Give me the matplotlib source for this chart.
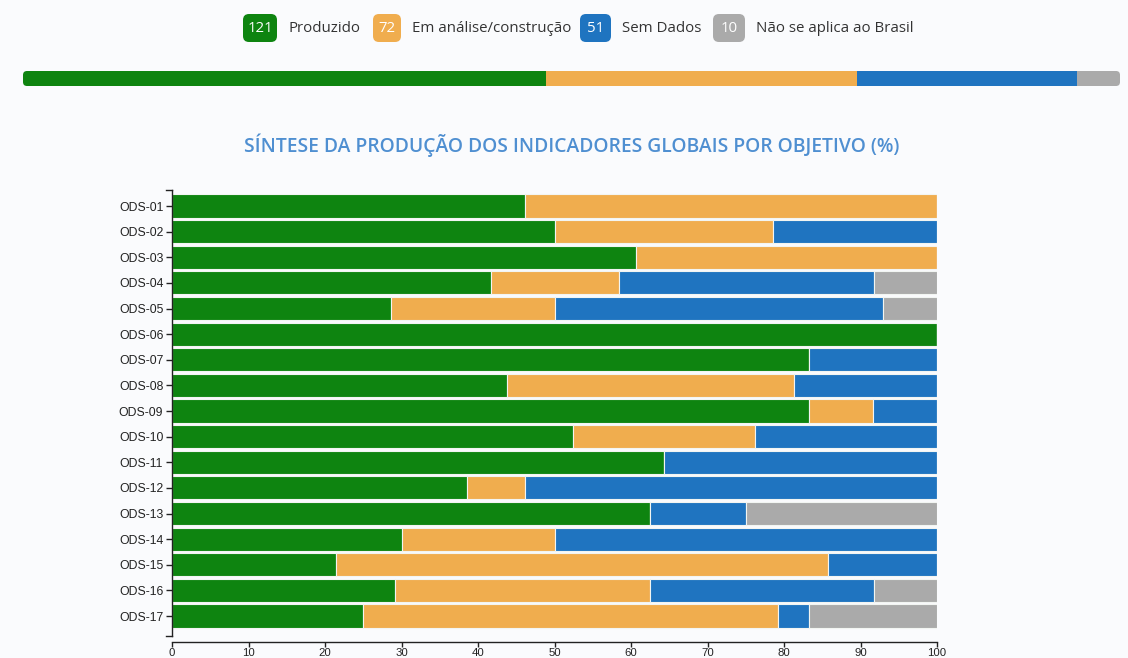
from matplotlib import pyplot as plt
from matplotlib.patches import FancyBboxPatch
from matplotlib.transforms import IdentityTransform
from matplotlib.font_manager import FontProperties
import numpy as np

# summary counts (legend badges + progress bar)
statusNames = ["Produzido", "Em análise/construção", "Sem Dados", "Não se aplica ao Brasil"]
statusCounts = [121, 72, 51, 10]
colors = ["#0e8410", "#f0ad4e", "#1f74c0", "#aaaaaa"]

# percentage per goal
goals = ["ODS-%02d" % i for i in range(1, 18)]
produzido = [46.2, 50.0, 60.7, 41.7, 28.6, 100.0, 83.3, 43.8, 83.3, 52.4, 64.3, 38.5, 62.5, 30.0, 21.4, 29.2, 25.0]
analise = [53.8, 28.6, 39.3, 16.7, 21.4, 0.0, 0.0, 37.5, 8.3, 23.8, 0.0, 7.7, 0.0, 20.0, 64.3, 33.3, 54.2]
semDados = [0.0, 21.4, 0.0, 33.3, 42.9, 0.0, 16.7, 18.7, 8.4, 23.8, 35.7, 53.8, 12.5, 50.0, 14.3, 29.2, 4.1]
naoAplica = [0.0, 0.0, 0.0, 8.3, 7.1, 0.0, 0.0, 0.0, 0.0, 0.0, 0.0, 0.0, 25.0, 0.0, 0.0, 8.3, 16.7]

W, H = 1128, 658
bg = "#fafbfd"
fig = plt.figure(figsize=(W / 100, H / 100), dpi=100)
fig.patch.set_facecolor(bg)

# overlay in pixel coordinates for legend and title
ov = fig.add_axes([0, 0, 1, 1])
ov.set_xlim(0, W)
ov.set_ylim(H, 0)
ov.axis("off")
ov.patch.set_alpha(0)

badgeX = [243, 373, 580, 713]
badgeW = [34, 28, 31, 32]
for x, w, n, name, c in zip(badgeX, badgeW, statusCounts, statusNames, colors):
    ov.add_patch(FancyBboxPatch((x, 14), w, 28, boxstyle="round,pad=0,rounding_size=6",
                                facecolor=c, edgecolor="none"))
    ov.text(x + w / 2, 28.5, str(n), color="white", fontsize=10.8, family="Open Sans",
            ha="center", va="center")
    ov.text(x + w + 11, 28.5, name, color="#333333", fontsize=10.8, family="Open Sans",
            ha="left", va="center")

ov.text(572, 145, "SÍNTESE DA PRODUÇÃO DOS INDICADORES GLOBAIS POR OBJETIVO (%)",
        color="#4f8fd1", fontsize=13.9, family="Open Sans", weight="semibold",
        ha="center", va="center")

# top progress bar
pb = fig.add_axes([23 / W, 1 - 86 / H, 1097 / W, 15 / H])
pb.axis("off")
total = sum(statusCounts)
lefts = np.cumsum([0] + statusCounts[:-1])
rects = pb.barh(0, statusCounts, left=lefts, height=1, color=colors, edgecolor="none")
pb.set_xlim(0, total)
pb.set_ylim(-0.5, 0.5)
clip = FancyBboxPatch((23, H - 86), 1097, 15, boxstyle="round,pad=0,rounding_size=4",
                      transform=IdentityTransform(), facecolor="none", edgecolor="none")
for r in rects:
    r.set_clip_path(clip)

# main chart
ax = fig.add_axes([172 / W, 22 / H, 765 / W, 446 / H])
ax.set_facecolor("none")
y = np.arange(len(goals))
left = np.zeros(len(goals))
for vals, c in zip([produzido, analise, semDados, naoAplica], colors):
    ax.barh(y, vals, left=left, height=0.9, color=c, edgecolor="#f2f5f2", linewidth=0.8)
    left += np.array(vals)

ax.set_xlim(0, 100)
ax.set_ylim(16.78, -0.625)
ax.set_yticks(y)
ax.set_yticklabels(goals)
ax.set_xticks(range(0, 101, 10))
for s in ["top", "right"]:
    ax.spines[s].set_visible(False)
ax.spines["bottom"].set_position(("outward", 4.3))
for s in ["left", "bottom"]:
    ax.spines[s].set_color("#222222")
    ax.spines[s].set_linewidth(1)
ax.tick_params(axis="y", length=4.3, width=1, color="#222222", pad=2)
ax.tick_params(axis="x", length=3.6, width=1, color="#222222", pad=0.5)
yFont = FontProperties(family="Liberation Sans", size=8.8)
xFont = FontProperties(family="Liberation Sans", size=8.2)
for lab in ax.get_yticklabels():
    lab.set_fontproperties(yFont)
    lab.set_color("#222222")
for lab in ax.get_xticklabels():
    lab.set_fontproperties(xFont)
    lab.set_color("#222222")

# outer ticks on the left domain
ov.plot([166, 172], [190, 190], color="#222222", lw=1)
ov.plot([166, 172], [636, 636], color="#222222", lw=1)

plt.savefig("out.png", dpi=100, facecolor=bg)
